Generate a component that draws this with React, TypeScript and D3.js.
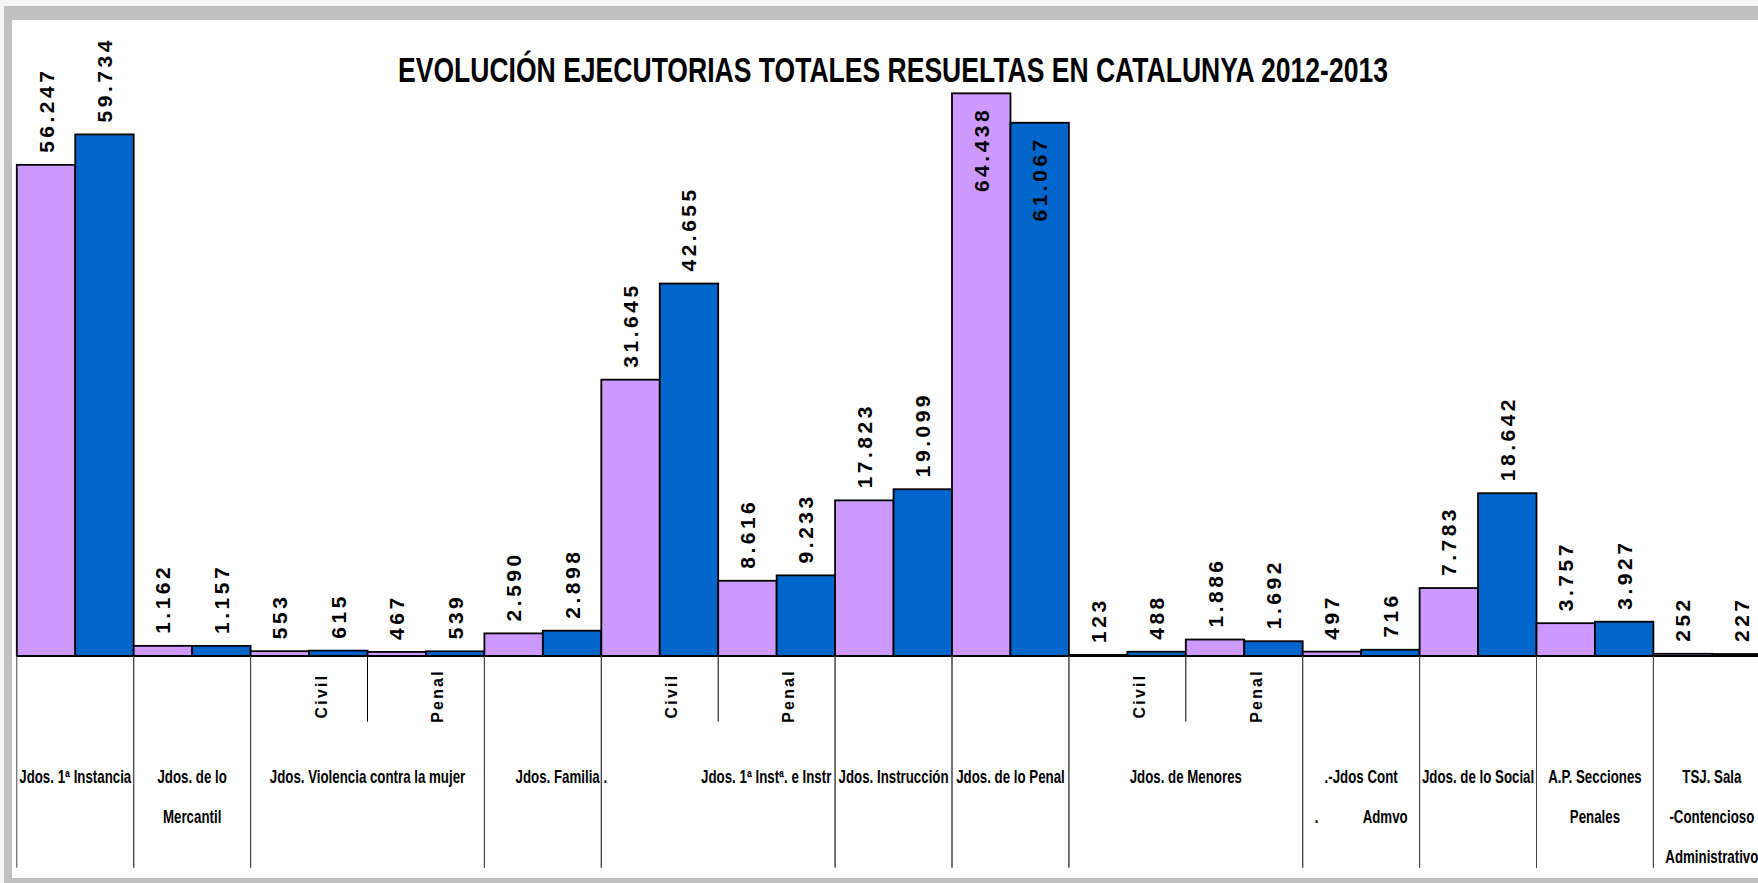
import React from "react";
import * as d3 from "d3";

const slotIds = ["inst", "merc", "violCivil", "violPenal", "familia", "ieCivil", "iePenal", "instr", "penal", "menCivil", "menPenal", "contAdm", "social", "ap", "tsj"];
const values2012 = [56247, 1162, 553, 467, 2590, 31645, 8616, 17823, 64438, 123, 1886, 497, 7783, 3757, 252];
const values2013 = [59734, 1157, 615, 539, 2898, 42655, 9233, 19099, 61067, 488, 1692, 716, 18642, 3927, 227];
const subLabels = ["", "", "Civil", "Penal", "", "Civil", "Penal", "", "", "Civil", "Penal", "", "", "", ""];
const NB = "\u00A0";
const groupLabels: string[][] = [
  ["Jdos. 1ª Instancia"],
  ["Jdos. de lo", "Mercantil"],
  ["Jdos. Violencia contra la mujer"],
  [NB.repeat(10) + "Jdos. Familia" + NB + "."],
  [NB.repeat(26) + "Jdos. 1ª Instª. e Instr"],
  ["Jdos. Instrucción"],
  ["Jdos. de lo Penal"],
  ["Jdos. de Menores"],
  [".-Jdos Cont", "." + NB.repeat(12) + "Admvo"],
  ["Jdos. de lo Social"],
  ["A.P. Secciones", "Penales"],
  ["TSJ. Sala", "-Contencioso", "Administrativo"],
];
const groupSpans = [1, 1, 2, 1, 2, 1, 1, 2, 1, 1, 1, 1];
const seriesKeys = ["2012", "2013"];
const seriesColors = ["#CC99FF", "#0066CC"];
const title = "EVOLUCIÓN EJECUTORIAS TOTALES RESUELTAS EN CATALUNYA 2012-2013";

const W = 1758;
const H = 883;
const BASE_Y = 656;
const X0 = 16.8;
const SLOT = 116.9;
const PX_PER_UNIT = 0.008732;
const VAL_FS = 21;
const VAL_LS = 3.5;
const FONT = '"Liberation Sans", Arial, Helvetica, sans-serif';

const locale = d3.formatLocale({ decimal: ",", thousands: ".", grouping: [3], currency: ["", " €"] });
const fmt = locale.format(",d");

function measure(s: string): number {
  const c = document.createElement("canvas").getContext("2d");
  if (!c) return s.length * 11 + VAL_LS * (s.length - 1);
  c.font = `bold ${VAL_FS}px ${FONT}`;
  return c.measureText(s).width + VAL_LS * (s.length - 1);
}

export default function App() {
  const x = d3.scaleBand<string>().domain(slotIds).range([X0, X0 + SLOT * slotIds.length]).padding(0);
  const xs = d3.scaleBand<string>().domain(seriesKeys).range([0, x.bandwidth()]).padding(0);
  const y = d3.scaleLinear().domain([0, 70000]).range([BASE_Y, BASE_Y - 70000 * PX_PER_UNIT]);
  const series = [values2012, values2013];

  const groups: { start: number; end: number; span: number; first: number; lines: string[] }[] = [];
  let idx = 0;
  groupSpans.forEach((span, g) => {
    const start = x(slotIds[idx]) as number;
    const end = (x(slotIds[idx + span - 1]) as number) + x.bandwidth();
    groups.push({ start, end, span, first: idx, lines: groupLabels[g] });
    idx += span;
  });

  const bars: React.ReactNode[] = [];
  const labels: React.ReactNode[] = [];
  slotIds.forEach((id, i) => {
    series.forEach((vals, s) => {
      const v = vals[i];
      const bx = (x(id) as number) + (xs(seriesKeys[s]) as number);
      const bw = xs.bandwidth();
      const top = y(v);
      bars.push(
        <rect key={`b${i}-${s}`} x={bx} y={top} width={bw} height={BASE_Y - top}
          fill={seriesColors[s]} stroke="#000" strokeWidth={1.8} />
      );
      const txt = fmt(v);
      const len = measure(txt);
      const cx = bx + bw / 2 + 7.5;
      const outsideTop = top - 12 - len;
      const anchorY = outsideTop >= 34 ? top - 12 : top + 17 + len;
      labels.push(
        <text key={`l${i}-${s}`} transform={`translate(${cx},${anchorY}) rotate(-90)`}
          fontFamily={FONT} fontWeight="bold" fontSize={VAL_FS} letterSpacing={VAL_LS}
          textAnchor="start" fill="#000">{txt}</text>
      );
    });
  });

  return (
    <svg width={W} height={H} style={{ position: "absolute", left: 0, top: 0 }}>
      <rect x={0} y={0} width={W} height={H} fill="#f5f5f5" />
      <rect x={4} y={6} width={W - 4} height={H - 6} fill="#C0C0C0" />
      <rect x={12} y={20} width={W - 12} height={858} fill="#ffffff" />
      <text x={398} y={81.7} fontFamily={FONT} fontWeight="bold" fontSize={35}
        textLength={990} lengthAdjust="spacingAndGlyphs" fill="#000">{title}</text>
      {bars}
      <line x1={X0} x2={W} y1={BASE_Y} y2={BASE_Y} stroke="#000" strokeWidth={2} />
      {groups.map((g, gi) => (
        <g key={`g${gi}`}>
          <line x1={g.start} x2={g.start} y1={BASE_Y} y2={867.7} stroke="#444" strokeWidth={1} />
          <line x1={g.end} x2={g.end} y1={BASE_Y} y2={867.7} stroke="#444" strokeWidth={1} />
          {g.span > 1 && (
            <line x1={(x(slotIds[g.first + 1]) as number)} x2={(x(slotIds[g.first + 1]) as number)}
              y1={BASE_Y} y2={721.7} stroke="#000" strokeWidth={1} />
          )}
          {g.lines.map((ln, li) => (
            <text key={li} transform={`translate(${(g.start + g.end) / 2},${783 + li * 40}) scale(0.76,1)`}
              fontFamily={FONT} fontWeight="bold" fontSize={17.5} textAnchor="middle" fill="#000">{ln}</text>
          ))}
        </g>
      ))}
      {slotIds.map((id, i) => subLabels[i] ? (
        <text key={`s${i}`} transform={`translate(${(x(id) as number) + x.bandwidth() / 2 + 17.5},696) rotate(-90)`}
          fontFamily={FONT} fontWeight="bold" fontSize={16} letterSpacing={2.2} textAnchor="middle" fill="#000">{subLabels[i]}</text>
      ) : null)}
      {labels}
    </svg>
  );
}
